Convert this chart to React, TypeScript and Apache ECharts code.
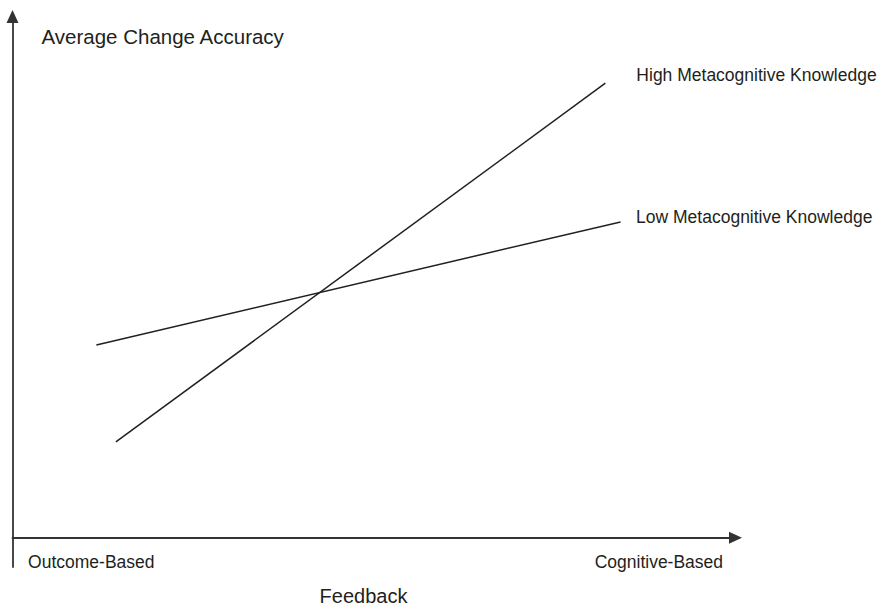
import React, { useEffect, useRef } from "react";
import * as echarts from "echarts";

// Feedback position (0 = axis origin, 100 = arrow end)
const highX = [14.3, 82.0];
const highY = [18.4, 87.2];
const lowX = [11.6, 84.1];
const lowY = [37.0, 60.6];
const seriesNames = ["High Metacognitive Knowledge", "Low Metacognitive Knowledge"];
const xCategories = ["Outcome-Based", "Cognitive-Based"];
const xCategoryPositions = [10.9, 89.4];
const xName = "Feedback";
const yName = "Average Change Accuracy";

const INK = "#231f20";
const FONT = "'Liberation Sans', Arial, Helvetica, sans-serif";

export default function App() {
  const ref = useRef<HTMLDivElement>(null);
  useEffect(() => {
    if (!ref.current) return;
    const chart = echarts.init(ref.current, undefined, { renderer: "svg" });
    const zip = (xs: number[], ys: number[]) => xs.map((x, i) => [x, ys[i]]);
    const mkSeries = (name: string, data: number[][], distance: number, dy: number) => ({
      name,
      type: "line",
      data,
      symbol: "none",
      lineStyle: { color: INK, width: 1.5 },
      endLabel: {
        show: true,
        formatter: name,
        color: INK,
        fontSize: 17.5,
        fontFamily: FONT,
        distance,
        offset: [0, dy],
      },
    });
    chart.setOption({
      animation: false,
      backgroundColor: "#ffffff",
      grid: { left: 12.5, right: 142.5, top: 16.5, bottom: 39, outerBoundsMode: "none", containLabel: false },
      xAxis: {
        type: "value",
        min: 0,
        max: 100,
        name: xName,
        nameLocation: "middle",
        nameGap: 18.5,
        nameTextStyle: { color: INK, fontSize: 20, fontFamily: FONT, padding: [0, 21, 0, 0] },
        splitLine: { show: false },
        axisTick: { show: false },
        axisLine: {
          onZero: true,
          symbol: ["none", "triangle"],
          symbolSize: [12, 13],
          lineStyle: { color: "#333333", width: 1.8 },
        },
        axisLabel: {
          customValues: xCategoryPositions,
          formatter: (v: number) => {
            const i = xCategoryPositions.findIndex((p) => Math.abs(p - v) < 1e-6);
            return i >= 0 ? xCategories[i] : "";
          },
          color: INK,
          fontSize: 17.5,
          fontFamily: FONT,
          margin: -14,
        },
      },
      yAxis: {
        type: "value",
        min: -5.6,
        max: 100,
        name: yName,
        nameLocation: "end",
        nameGap: -30,
        nameTextStyle: { color: INK, fontSize: 20.5, fontFamily: FONT, align: "left", padding: [0, 0, 0, 29] },
        splitLine: { show: false },
        axisTick: { show: false },
        axisLabel: { show: false },
        axisLine: {
          onZero: false,
          symbol: ["none", "triangle"],
          symbolSize: [12, 13],
          lineStyle: { color: "#333333", width: 1.8 },
        },
      },
      series: [
        mkSeries(seriesNames[0], zip(highX, highY), 31, -8),
        mkSeries(seriesNames[1], zip(lowX, lowY), 15.5, -5),
      ],
    });
    return () => chart.dispose();
  }, []);
  return (
    <div
      ref={ref}
      style={{ position: "fixed", left: 0, top: 0, width: 878, height: 606, background: "#fff" }}
    />
  );
}
